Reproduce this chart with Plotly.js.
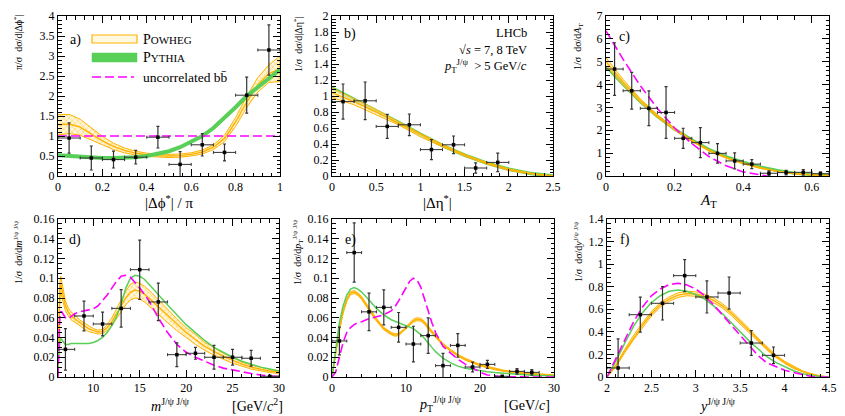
<!DOCTYPE html>
<html><head><meta charset="utf-8">
<script src="https://cdn.plot.ly/plotly-3.0.1.min.js"></script>
<style>html,body{margin:0;padding:0;background:#fff}#c{width:845px;height:416px}</style>
</head><body><div id="c"></div>
<script>
// ---------- Panel a: |dphi*|/pi ----------
const aX = [0.05,0.15,0.25,0.35,0.45,0.55,0.65,0.75,0.85,0.95];
const aY = [0.95,0.45,0.41,0.47,0.97,0.29,0.78,0.59,2.02,3.15];
const aE = [0.38,0.30,0.21,0.17,0.27,0.32,0.28,0.21,0.45,0.63];
const aHalf = 0.05;
const aCurveX = [0,0.05,0.1,0.15,0.2,0.25,0.3,0.35,0.4,0.45,0.5,0.55,0.6,0.65,0.7,0.75,0.8,0.85,0.9,0.95,1.0];
const aPowheg = [1.28,1.30,1.22,1.05,0.88,0.74,0.64,0.57,0.53,0.51,0.50,0.51,0.54,0.60,0.72,0.94,1.35,1.85,2.28,2.56,2.68];
const aPowhegUnc = [0.25,0.24,0.20,0.15,0.11,0.08,0.06,0.05,0.04,0.04,0.04,0.04,0.04,0.05,0.06,0.08,0.11,0.14,0.18,0.22,0.32];
const aPythia = [0.52,0.50,0.48,0.46,0.45,0.45,0.45,0.47,0.50,0.55,0.62,0.72,0.85,1.00,1.20,1.45,1.72,2.00,2.22,2.45,2.66];
const aUncorr = [1,1,1,1,1,1,1,1,1,1,1,1,1,1,1,1,1,1,1,1,1];

// ---------- Panel b: |deta*| ----------
const bX = [0.125,0.375,0.625,0.875,1.125,1.375,1.625,1.875];
const bY = [0.93,0.94,0.62,0.64,0.33,0.39,0.10,0.17];
const bE = [0.22,0.235,0.15,0.135,0.125,0.11,0.065,0.115];
const bHalf = 0.125;
const bCurveX = [0,0.25,0.5,0.75,1.0,1.25,1.5,1.75,2.0,2.25,2.5];
const bPowheg = [1.04,0.93,0.80,0.66,0.51,0.38,0.26,0.16,0.08,0.03,0.0];
const bPowhegUnc = [0.06,0.04,0.03,0.02,0.02,0.015,0.01,0.01,0.01,0.005,0.002];
const bPythia = [1.10,0.96,0.82,0.67,0.52,0.38,0.26,0.16,0.085,0.03,0.0];

// ---------- Panel c: A_T ----------
const cX = [0.025,0.075,0.125,0.175,0.225,0.275,0.325,0.375,0.425,0.475,0.525,0.575,0.625];
const cY = [4.68,3.73,2.96,2.78,1.65,1.46,0.99,0.66,0.52,0.12,0.15,0.16,0.10];
const cE = [1.15,0.80,0.76,1.13,0.44,0.66,0.43,0.35,0.20,0.10,0.10,0.12,0.08];
const cHalf = 0.025;
const cCurveX = [0,0.05,0.1,0.15,0.2,0.25,0.3,0.35,0.4,0.45,0.5,0.55,0.6,0.65];
const cPowheg = [5.0,4.1,3.3,2.62,2.05,1.55,1.12,0.80,0.55,0.35,0.20,0.10,0.05,0.02];
const cPowhegUnc = [0.18,0.12,0.08,0.06,0.04,0.03,0.03,0.02,0.02,0.02,0.01,0.01,0.01,0.01];
const cPythia = [4.8,4.0,3.25,2.6,2.05,1.58,1.17,0.85,0.60,0.40,0.24,0.12,0.06,0.03];
const cUncorrX = [0,0.05,0.1,0.15,0.2,0.25,0.3,0.35,0.4,0.45,0.47];
const cUncorr = [6.35,5.1,3.95,2.95,2.1,1.42,0.85,0.45,0.18,0.03,0];

// ---------- Panel d: m(J/psi J/psi) ----------
const dX = [7,9,11,13,15,17,19,21,23,25,27,29];
const dY = [0.028,0.0618,0.0537,0.0695,0.1087,0.076,0.0226,0.024,0.020,0.020,0.019,0.0007];
const dE = [0.021,0.015,0.012,0.019,0.030,0.019,0.012,0.006,0.012,0.008,0.008,0.0005];
const dHalf = 1;
const dCurveX = [6.2,6.3,6.4,6.5,6.6,6.8,7.0,7.3,7.6,8,8.5,9,9.5,10,10.5,11,11.5,12,12.5,13,13.5,14,14.5,15,15.5,16,17,18,19,20,21,22,23,24,25,26,27,28,29,30];
const dPowheg = [0.0,0.060,0.088,0.094,0.090,0.080,0.072,0.066,0.062,0.059,0.055,0.052,0.049,0.047,0.0455,0.046,0.050,0.056,0.064,0.072,0.080,0.086,0.088,0.087,0.084,0.080,0.071,0.062,0.053,0.045,0.038,0.031,0.026,0.021,0.017,0.013,0.010,0.008,0.006,0.005];
const dPowhegUnc = [0,0.006,0.008,0.008,0.007,0.006,0.005,0.004,0.004,0.004,0.003,0.003,0.003,0.002,0.002,0.002,0.003,0.004,0.005,0.006,0.007,0.008,0.008,0.008,0.008,0.008,0.007,0.007,0.006,0.005,0.005,0.004,0.004,0.003,0.003,0.002,0.002,0.002,0.0015,0.0015];
const dPythia = [0.010,0.028,0.036,0.039,0.038,0.035,0.033,0.033,0.034,0.034,0.034,0.034,0.034,0.035,0.037,0.040,0.045,0.052,0.061,0.074,0.090,0.100,0.103,0.102,0.099,0.094,0.083,0.073,0.063,0.053,0.045,0.037,0.030,0.025,0.020,0.016,0.013,0.010,0.008,0.006];
const dUncorr = [0.0,0.045,0.062,0.066,0.066,0.063,0.060,0.059,0.061,0.064,0.066,0.067,0.068,0.069,0.072,0.077,0.083,0.090,0.097,0.102,0.103,0.101,0.096,0.090,0.084,0.077,0.060,0.045,0.033,0.025,0.020,0.016,0.012,0.009,0.007,0.005,0.0035,0.002,0.001,0.0005];

// ---------- Panel e: pT(J/psi J/psi) ----------
const eX = [1,3,5,7,9,11,13,15,17,19,21,23,25,27];
const eY = [0.0365,0.126,0.066,0.0705,0.0503,0.0334,0.0419,0.0115,0.032,0.0101,0.0128,0.0007,0.0057,0.0047];
const eE = [0.014,0.030,0.019,0.0177,0.015,0.018,0.018,0.0125,0.012,0.005,0.004,0.0005,0.0027,0.0027];
const eHalf = 1;
const eCurveX = [0,0.5,1,1.5,2,2.5,3,3.5,4,5,6,7,8,8.5,9,9.5,10,10.5,11,11.5,12,12.5,13,13.5,14,15,16,17,18,19,20,21,22,23,24,26,28,30];
const ePowheg = [0,0.025,0.048,0.066,0.078,0.085,0.086,0.084,0.080,0.069,0.058,0.049,0.044,0.0425,0.043,0.046,0.050,0.054,0.057,0.0585,0.058,0.055,0.050,0.045,0.041,0.033,0.027,0.022,0.018,0.015,0.012,0.010,0.008,0.0066,0.0054,0.0037,0.0027,0.0017];
const ePowhegUnc = [0,0.001,0.0012,0.0014,0.0015,0.0015,0.0015,0.0015,0.0015,0.0015,0.0014,0.0013,0.0012,0.0012,0.0012,0.0013,0.0014,0.0015,0.0015,0.0015,0.0015,0.0015,0.0014,0.0013,0.0012,0.0011,0.001,0.001,0.001,0.0009,0.0008,0.0008,0.0007,0.0007,0.0006,0.0006,0.0005,0.0005];
const ePythia = [0,0.030,0.055,0.072,0.083,0.089,0.0905,0.089,0.086,0.078,0.0695,0.063,0.058,0.0565,0.055,0.054,0.0527,0.051,0.049,0.046,0.043,0.039,0.034,0.030,0.0257,0.019,0.0145,0.011,0.0088,0.0074,0.0062,0.0053,0.0045,0.0038,0.0032,0.0022,0.0015,0.001];
const eUncorr = [0,0.005,0.020,0.035,0.045,0.050,0.053,0.055,0.056,0.059,0.061,0.063,0.067,0.071,0.077,0.084,0.091,0.097,0.100,0.098,0.091,0.080,0.067,0.055,0.045,0.031,0.024,0.018,0.013,0.009,0.005,0.002,0.0008,0.0003,0.0001,0,0,0];

// ---------- Panel f: y(J/psi J/psi) ----------
const fX = [2.125,2.375,2.625,2.875,3.125,3.375,3.625,3.875];
const fY = [0.08,0.552,0.653,0.898,0.709,0.744,0.301,0.192];
const fE = [0.257,0.155,0.148,0.142,0.142,0.142,0.11,0.074];
const fHalf = 0.125;
const fCurveX = [2.0,2.1,2.2,2.3,2.4,2.5,2.6,2.7,2.8,2.9,3.0,3.1,3.2,3.3,3.4,3.5,3.6,3.7,3.8,3.9,4.0,4.1,4.2,4.3,4.4,4.5];
const fPowheg = [0,0.10,0.23,0.35,0.46,0.56,0.64,0.69,0.725,0.74,0.735,0.715,0.68,0.63,0.565,0.49,0.41,0.33,0.255,0.185,0.13,0.085,0.05,0.025,0.008,0];
const fPowhegUnc = [0,0.01,0.015,0.02,0.02,0.02,0.02,0.02,0.02,0.02,0.02,0.02,0.02,0.02,0.02,0.02,0.02,0.015,0.015,0.01,0.01,0.01,0.005,0.005,0.003,0];
const fPythia = [0,0.14,0.30,0.45,0.57,0.66,0.72,0.76,0.77,0.76,0.73,0.69,0.63,0.56,0.48,0.40,0.32,0.25,0.18,0.13,0.09,0.055,0.03,0.013,0.004,0];
const fUncorr = [0,0.16,0.33,0.49,0.62,0.72,0.78,0.82,0.83,0.815,0.78,0.72,0.64,0.55,0.45,0.36,0.27,0.19,0.125,0.09,0.06,0.04,0.02,0.005,0,0];

// ---------- styling ----------
const W = 845, H = 416;
const FONT = 'Liberation Serif';
const ORANGE = '#FFB300';
const GREEN = '#58D058';
const MAGENTA = '#FF00FF';
const PX = x => x / W;
const PY = y => 1 - y / H;

const traces = [];
function band(xa, ya, xs, c, u, hatch) {
  const up = c.map((v, i) => v + u[i]);
  const lo = c.map((v, i) => Math.max(0, v - u[i]));
  const t = {
    x: xs.concat(xs.slice().reverse()),
    y: up.concat(lo.slice().reverse()),
    xaxis: xa, yaxis: ya, mode: 'lines', fill: 'toself',
    fillcolor: 'rgba(255,228,150,0.55)',
    line: {color: ORANGE, width: 1}, hoverinfo: 'skip', showlegend: false
  };
  if (hatch) t.fillpattern = {shape: 'x', fgcolor: 'rgba(255,185,0,0.85)', bgcolor: 'rgba(255,243,205,0.7)', size: 4, solidity: 0.2};
  traces.push(t);
  traces.push({x: xs, y: c, xaxis: xa, yaxis: ya, mode: 'lines', line: {color: ORANGE, width: 1.4}, hoverinfo: 'skip', showlegend: false});
}
function line(xa, ya, xs, ys, color, width, dash) {
  traces.push({x: xs, y: ys, xaxis: xa, yaxis: ya, mode: 'lines', line: {color: color, width: width, dash: dash || 'solid'}, hoverinfo: 'skip', showlegend: false});
}
function points(xa, ya, xs, ys, es, half) {
  traces.push({
    x: xs, y: ys, xaxis: xa, yaxis: ya, mode: 'markers',
    marker: {symbol: 'square', size: 3.5, color: '#000'},
    error_y: {type: 'data', array: es, color: '#333', thickness: 1.2, width: 1.5},
    error_x: {type: 'constant', value: half, color: '#333', thickness: 1, width: 1.5},
    hoverinfo: 'skip', showlegend: false
  });
}
const DASH = '9px,4px';

// a
band('x', 'y', aCurveX, aPowheg, aPowhegUnc, true);
line('x', 'y', aCurveX, aPythia, GREEN, 4);
line('x', 'y', aCurveX, aUncorr, MAGENTA, 1.6, DASH);
points('x', 'y', aX, aY, aE, aHalf);
// b
line('x2', 'y2', bCurveX, bPythia, GREEN, 3.5);
band('x2', 'y2', bCurveX, bPowheg, bPowhegUnc, true);
points('x2', 'y2', bX, bY, bE, bHalf);
// c
line('x3', 'y3', cCurveX, cPythia, GREEN, 3);
band('x3', 'y3', cCurveX, cPowheg, cPowhegUnc, false);
line('x3', 'y3', cUncorrX, cUncorr, MAGENTA, 1.6, DASH);
points('x3', 'y3', cX, cY, cE, cHalf);
// d
band('x4', 'y4', dCurveX, dPowheg, dPowhegUnc, true);
line('x4', 'y4', dCurveX, dPythia, GREEN, 1.5);
line('x4', 'y4', dCurveX, dUncorr, MAGENTA, 1.6, DASH);
points('x4', 'y4', dX, dY, dE, dHalf);
// e
band('x5', 'y5', eCurveX, ePowheg, ePowhegUnc, false);
line('x5', 'y5', eCurveX, ePythia, GREEN, 1.5);
line('x5', 'y5', eCurveX, eUncorr, MAGENTA, 1.6, DASH);
points('x5', 'y5', eX, eY, eE, eHalf);
// f
band('x6', 'y6', fCurveX, fPowheg, fPowhegUnc, false);
line('x6', 'y6', fCurveX, fPythia, GREEN, 1.5);
line('x6', 'y6', fCurveX, fUncorr, MAGENTA, 1.6, DASH);
points('x6', 'y6', fX, fY, fE, fHalf);

function axis(dom, range, dtick, minor, anchor, tick0) {
  return {
    domain: dom, range: range, dtick: dtick, tick0: tick0 === undefined ? 0 : tick0,
    anchor: anchor, ticks: 'inside', ticklen: 7, tickwidth: 1, tickcolor: '#000',
    mirror: 'allticks', showline: true, linecolor: '#000', linewidth: 1,
    showgrid: false, zeroline: false, fixedrange: true,
    tickfont: {family: FONT, size: 12, color: '#000'},
    minor: {ticks: 'inside', ticklen: 3.5, dtick: minor, tickcolor: '#000', showgrid: false}
  };
}
const xa = (l, r) => [PX(l), PX(r)];
const ya = (b, t) => [PY(b), PY(t)];

const layout = {
  width: W, height: H, margin: {l: 0, r: 0, t: 0, b: 0},
  paper_bgcolor: '#fff', plot_bgcolor: '#fff', showlegend: false,
  font: {family: FONT, color: '#000'},
  xaxis:  axis(xa(58, 280), [0, 1], 0.2, 0.04, 'y'),
  yaxis:  axis(ya(176, 16), [0, 4], 0.5, 0.1, 'x'),
  xaxis2: axis(xa(332, 553), [0, 2.5], 0.5, 0.1, 'y2'),
  yaxis2: axis(ya(176, 16), [0, 2], 0.2, 0.04, 'x2'),
  xaxis3: axis(xa(606, 829), [0, 0.65], 0.2, 0.05, 'y3'),
  yaxis3: axis(ya(176, 16), [0, 7], 1, 0.2, 'x3'),
  xaxis4: axis(xa(58, 279), [6.2, 30], 5, 1, 'y4'),
  yaxis4: axis(ya(377, 219), [0, 0.16], 0.02, 0.005, 'x4'),
  xaxis5: axis(xa(332, 554), [0, 30], 10, 2, 'y5'),
  yaxis5: axis(ya(377, 219), [0, 0.16], 0.02, 0.005, 'x5'),
  xaxis6: axis(xa(607, 829), [2, 4.5], 0.5, 0.1, 'y6'),
  yaxis6: axis(ya(377, 219), [0, 1.4], 0.2, 0.04, 'x6'),
  shapes: [
    {type: 'rect', xref: 'paper', yref: 'paper', x0: PX(92), x1: PX(137), y0: PY(43), y1: PY(35),
     line: {color: ORANGE, width: 1.2}, fillcolor: 'rgba(255,243,205,0.6)'},
    {type: 'rect', xref: 'paper', yref: 'paper', x0: PX(92), x1: PX(137), y0: PY(62), y1: PY(53),
     line: {color: GREEN, width: 0.5}, fillcolor: GREEN},
    {type: 'line', xref: 'paper', yref: 'paper', x0: PX(92), x1: PX(134), y0: PY(77), y1: PY(77),
     line: {color: MAGENTA, width: 1.6, dash: DASH}}
  ],
  annotations: []
};

function ann(x, y, text, size, opts) {
  layout.annotations.push(Object.assign({
    xref: 'paper', yref: 'paper', x: PX(x), y: PY(y), text: text, showarrow: false,
    font: {family: FONT, size: size, color: '#000'}, xanchor: 'center', yanchor: 'middle'
  }, opts || {}));
}
// legend texts
ann(141, 39, 'P<span style="font-size:11px">OWHEG</span>', 14, {xanchor: 'left'});
ann(141, 58, 'P<span style="font-size:11px">YTHIA</span>', 14, {xanchor: 'left'});
ann(141, 77, 'uncorrelated bb̄', 13.5, {xanchor: 'left'});
// panel labels
ann(75, 40, 'a)', 14);
ann(350, 34, 'b)', 14);
ann(624, 37, 'c)', 14);
ann(75, 240, 'd)', 14);
ann(350, 240, 'e)', 14);
ann(625, 240, 'f)', 14);
// LHCb box
ann(529, 33, 'LHCb', 12.5, {xanchor: 'right'});
ann(529, 50, '√<i>s</i> = 7, 8 TeV', 12.5, {xanchor: 'right'});
ann(529, 66, '<i>p</i><sub>T</sub><sup>J/ψ</sup>  > 5 GeV/<i>c</i>', 12.5, {xanchor: 'right'});
// x titles
ann(169, 202, '|Δϕ<sup>*</sup>| / π', 15);
ann(437, 202, '|Δη<sup>*</sup>|', 15);
ann(708, 201, '<i>A</i><sub>T</sub>', 15);
ann(170, 405, '<i>m</i><sup>J/ψ J/ψ</sup>', 14);
ann(257, 405, '[GeV/<i>c</i><sup>2</sup>]', 14);
ann(440, 404, '<i>p</i><sub>T</sub><sup>J/ψ J/ψ</sup>', 14);
ann(527, 405, '[GeV/<i>c</i>]', 14);
ann(717, 405, '<i>y</i><sup>J/ψ J/ψ</sup>', 14);
// y titles
const yt = {textangle: -90};
ann(18, 42, 'π/σ  dσ/d|Δϕ<sup>*</sup>|', 10, yt);
ann(298, 44, '1/σ  dσ/d|Δη<sup>*</sup>|', 10, yt);
ann(578, 47, '1/σ  dσ/d<i>A</i><sub>T</sub>', 10, yt);
ann(18, 252, '1/σ  dσ/d<i>m</i><sup>J/ψ J/ψ</sup>', 10, yt);
ann(298, 252, '1/σ  dσ/d<i>p</i><sub>T</sub><sup>J/ψ J/ψ</sup>', 10, yt);
ann(578, 252, '1/σ  dσ/d<i>y</i><sup>J/ψ J/ψ</sup>', 10, yt);

Plotly.newPlot('c', traces, layout, {staticPlot: true, displayModeBar: false});
</script>
</body></html>
